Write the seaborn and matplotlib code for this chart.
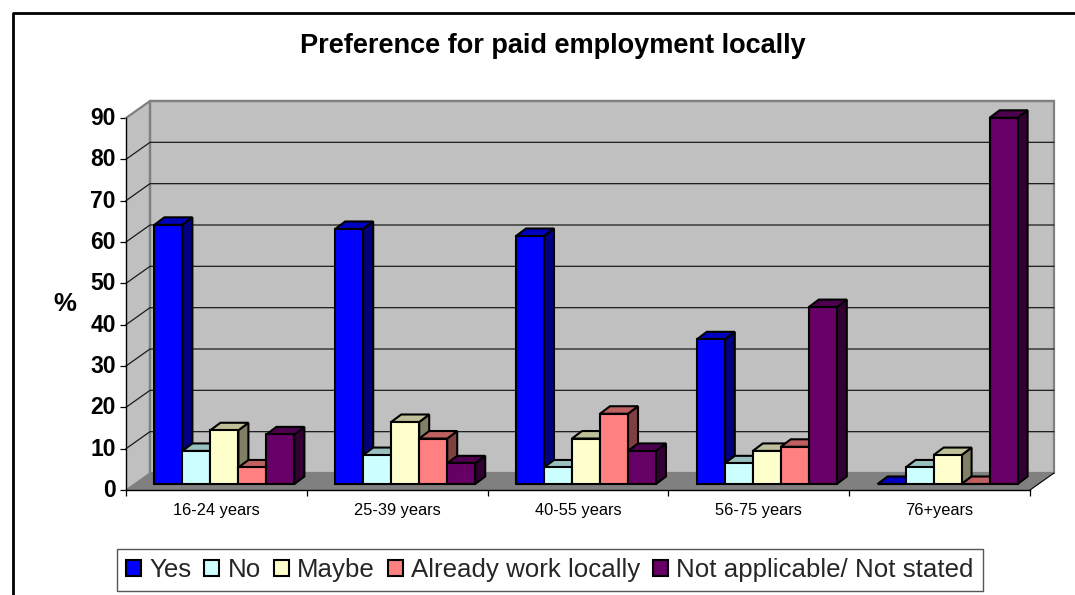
import matplotlib
matplotlib.use("Agg")
import matplotlib.pyplot as plt
from matplotlib.lines import Line2D
from matplotlib.patches import Polygon
from matplotlib.transforms import ScaledTranslation
import pandas as pd
import seaborn as sns

title = "Preference for paid employment locally"
ages = ["16-24 years", "25-39 years", "40-55 years", "56-75 years", "76+years"]
series = ["Yes", "No", "Maybe", "Already work locally", "Not applicable/ Not stated"]
yes = [62.7, 61.7, 60, 35, 0]
no = [8, 7, 4, 5, 4]
maybe = [13, 15, 11, 8, 7]
already = [4, 11, 17, 9, 0]
not_applicable = [12, 5, 8, 42.8, 88.6]
colors = ["#0000FF", "#CCFFFF", "#FFFFCC", "#FF8080", "#660066"]
yticks = list(range(0, 100, 10))

W, H = 1075, 595
sns.set_style("white")
plt.rcParams["font.family"] = ["Liberation Sans", "DejaVu Sans"]

rows = []
for name, vals in zip(series, [yes, no, maybe, already, not_applicable]):
    for age, v in zip(ages, vals):
        rows.append({"age": age, "series": name, "value": v})
df = pd.DataFrame(rows)


def box(left, top, right, bottom):
    # pixel box (from top left of the image) to figure fractions
    return [left / W, 1 - bottom / H, (right - left) / W, (bottom - top) / H]


def shade(hex_color, k):
    r, g, b = matplotlib.colors.to_rgb(hex_color)
    return (r * k, g * k, b * k)


fig = plt.figure(figsize=(W / 100, H / 100), dpi=100, facecolor="white")

# front plane of the fake 3d box: holds ticks, labels, walls
ax = fig.add_axes(box(126, 118, 1030, 490))
ax.set_xlim(-0.5, 4.5)
ax.set_ylim(0, 90)
ax.patch.set_visible(False)
for s in ["top", "right"]:
    ax.spines[s].set_visible(False)
for s in ["left", "bottom"]:
    ax.spines[s].set_color("black")
    ax.spines[s].set_linewidth(1)

ux = 904 / 5
uy = 372 / 90
wall_dx = 24 / ux
wall_dy = 17 / uy
x0, x1 = -0.5, 4.5
ax.add_patch(Polygon([(x0, 0), (x0 + wall_dx, wall_dy), (x1 + wall_dx, wall_dy), (x1, 0)],
                     closed=True, fc="#808080", ec="none", clip_on=False, zorder=0))
ax.add_patch(Polygon([(x0, 0), (x0 + wall_dx, wall_dy), (x0 + wall_dx, 90 + wall_dy), (x0, 90)],
                     closed=True, fc="#C0C0C0", ec="none", clip_on=False, zorder=0))
ax.add_patch(Polygon([(x0 + wall_dx, wall_dy), (x1 + wall_dx, wall_dy), (x1 + wall_dx, 90 + wall_dy), (x0 + wall_dx, 90 + wall_dy)],
                     closed=True, fc="#C0C0C0", ec="#808080", lw=1.6, clip_on=False, zorder=0.5))
ax.plot([x0, x0 + wall_dx, x1 + wall_dx], [90, 90 + wall_dy, 90 + wall_dy], color="#808080", lw=1.6, clip_on=False, zorder=0.6)
ax.plot([x0 + wall_dx, x0 + wall_dx], [wall_dy, 90 + wall_dy], color="#808080", lw=1.6, clip_on=False, zorder=0.6)
ax.plot([x0, x0 + wall_dx], [0, wall_dy], color="#808080", lw=1, clip_on=False, zorder=0.6)
ax.plot([x1, x1 + wall_dx], [0, wall_dy], color="black", lw=0.8, clip_on=False, zorder=0.6)
for t in yticks[1:-1]:
    ax.plot([x0, x0 + wall_dx, x1 + wall_dx], [t, t + wall_dy, t + wall_dy],
            color="#1a1a1a", lw=0.9, clip_on=False, zorder=0.7)

ax.set_yticks(yticks)
ax.set_yticklabels(yticks, fontsize=16.5, fontweight="bold", color="black")
ax.tick_params(axis="y", left=True, length=4.3, width=0.9, color="black", pad=3)
# the numbers sit about 2px above their ticks
nudge = ScaledTranslation(0, 2 / 100, fig.dpi_scale_trans)
for lab in ax.get_yticklabels():
    lab.set_transform(lab.get_transform() + nudge)
ax.set_xticks(range(len(ages)))
ax.set_xticklabels(ages, fontsize=11.8, color="black")
ax.set_xticks([i - 0.5 for i in range(len(ages) + 1)], minor=True)
ax.tick_params(axis="x", which="major", bottom=False, pad=6)
ax.tick_params(axis="x", which="minor", bottom=True, length=4.3, width=0.9, color="black")
ax.set_ylabel("%", rotation=0, fontsize=18.5, fontweight="bold", color="black", labelpad=18, va="center")

# bars sit a bit behind the front plane
bar_ax = fig.add_axes(box(134, 112, 1038, 484))
sns.barplot(data=df, x="age", y="value", hue="series", order=ages, hue_order=series,
            palette=colors, saturation=1, width=140 / ux, gap=0, edgecolor="black",
            linewidth=1.5, ax=bar_ax, clip_on=False)
bar_ax.set_xlim(-0.5, 4.5)
bar_ax.set_ylim(0, 90)
bar_ax.axis("off")

# side and top faces for each bar, drawn left to right so the next bar covers them
depth_x = 10 / ux
depth_y = 7.5 / uy
bars = []
for cont, col in zip(bar_ax.containers, colors):
    for p in cont.patches:
        bars.append((p, col))
bars.sort(key=lambda b: b[0].get_x())
for i, (p, col) in enumerate(bars):
    l, b = p.get_x(), p.get_y()
    r, t = l + p.get_width(), b + p.get_height()
    z = 3 + i
    p.set_zorder(z + 0.5)
    bar_ax.add_patch(Polygon([(r, b), (r + depth_x, b + depth_y), (r + depth_x, t + depth_y), (r, t)],
                             closed=True, fc=shade(col, 0.5), ec="black", lw=1.5, clip_on=False, zorder=z))
    bar_ax.add_patch(Polygon([(l, t), (l + depth_x, t + depth_y), (r + depth_x, t + depth_y), (r, t)],
                             closed=True, fc=shade(col, 0.75), ec="black", lw=1.5, clip_on=False, zorder=z))

handles, labels = bar_ax.get_legend_handles_labels()
bar_ax.get_legend().remove()
fig.legend(handles, labels, loc="center", bbox_to_anchor=(550 / W, 1 - 570 / H), ncol=5,
           fontsize=18.6, frameon=True, fancybox=False, framealpha=1, edgecolor="#555555",
           handlelength=0.58, handleheight=0.58, handletextpad=0.32, columnspacing=0.5,
           borderpad=0.35, borderaxespad=0)

fig.suptitle(title, x=553 / W, y=1 - 46 / H, va="center", fontsize=19.5, fontweight="bold", color="black")

# frame of the pasted picture: left and top edges only
fig.add_artist(Line2D([13 / W, 13 / W, 1], [0, 1 - 12.5 / H, 1 - 12.5 / H], color="black", lw=2))

fig.savefig("out.png", dpi=100)
plt.close()
